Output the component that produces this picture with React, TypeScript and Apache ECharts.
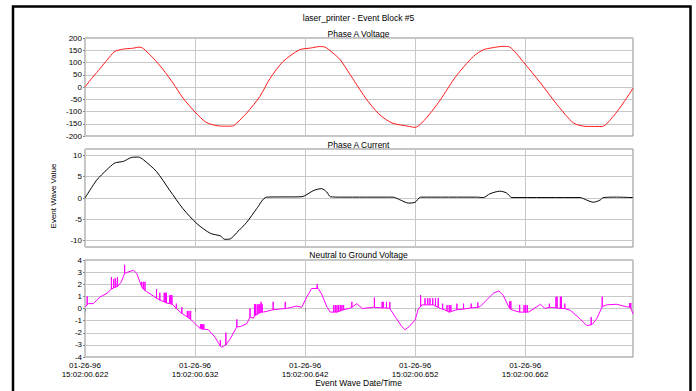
import React, { useEffect, useRef } from "react";
import * as echarts from "echarts";

const chartTitle = "laser_printer - Event Block #5";
const panelTitles = ["Phase A Voltage", "Phase A Current", "Neutral to Ground Voltage"];
const yAxisTitle = "Event Wave Value";
const xAxisTitle = "Event Wave Date/Time";

// time offsets (ms) from 15:02:00.622
const timeTickOffsets = [0, 10, 20, 30, 40];
const timeTickLabels = [
  "01-26-96\n15:02:00.622",
  "01-26-96\n15:02:00.632",
  "01-26-96\n15:02:00.642",
  "01-26-96\n15:02:00.652",
  "01-26-96\n15:02:00.662",
];

const voltagePoints: [number, number][] = [
  [0, 0], [0.7, 40], [1.4, 77], [2.0, 110], [2.7, 145], [3.5, 155], [4.3, 158], [5.0, 163], [5.3, 157],
  [6.2, 118], [7.1, 71], [8.0, 16], [8.9, -45], [10.0, -102], [11.0, -144], [12.0, -158], [13.0, -160],
  [13.5, -158], [13.8, -147], [14.7, -106], [15.9, -38], [16.8, 34], [18.0, 104], [19.5, 152], [20.5, 159],
  [21.3, 165], [21.8, 163], [22.5, 140], [23.2, 111], [24.0, 57], [25.5, -45], [26.7, -110], [27.9, -147],
  [29.5, -161], [30.0, -165], [30.6, -147], [31.5, -100], [32.3, -52], [33.7, 43], [35.3, 125], [36.2, 152],
  [37.0, 160], [38.0, 166], [38.6, 163], [39.8, 104], [41.4, 16], [42.9, -72], [44.4, -147], [45.6, -161],
  [47.0, -161], [48.0, -120], [49.0, -60], [49.8, -5],
];

const currentPoints: [number, number][] = [
  [0, 0], [1.06, 4.2], [1.97, 6.6], [2.7, 8.2], [3.5, 8.6], [4.2, 9.5], [4.85, 9.6], [5.3, 9.0], [6.5, 6.2],
  [7.7, 1.8], [8.9, -2.5], [10.2, -6.1], [11.4, -8.3], [12.3, -8.9], [12.7, -9.7], [13.2, -9.6], [13.8, -8.1],
  [14.7, -5.7], [15.6, -2.5], [16.5, 0.2], [19.7, 0.3], [20.8, 1.8], [21.5, 2.2], [21.97, 1.4], [22.3, 0.3],
  [23.2, 0.2], [28.0, 0.2], [28.6, -0.4], [29.4, -1.2], [30.0, -1.0], [30.5, 0.2], [35.6, 0.2], [36.2, 0.1],
  [36.8, 1.0], [37.7, 1.6], [38.3, 1.2], [38.8, 0.1], [45.0, 0.1], [45.6, -0.5], [46.2, -1.0], [46.8, -0.5],
  [47.1, 0.1], [48.3, 0.2], [49.8, 0.1],
];

const neutralBasePoints: [number, number][] = [
  [0, 0.15], [0.3, 0.4], [0.75, 0.4], [1.36, 0.95], [2.0, 1.25], [2.4, 1.6], [2.9, 1.8], [3.3, 2.2], [3.9, 3.0],
  [4.4, 3.15], [4.7, 2.9], [5.15, 1.8], [5.6, 1.4], [6.5, 0.85], [7.4, 0.45], [8.0, 0.3], [8.8, -0.4],
  [9.85, -1.1], [10.45, -1.65], [11.2, -1.75], [11.8, -2.35], [12.4, -3.2], [12.7, -3.05], [13.2, -2.5],
  [13.8, -1.5], [14.1, -1.5], [14.7, -1.25], [15.3, -0.8], [16.2, -0.3], [17.1, -0.1], [18.3, 0], [19.2, 0.2],
  [19.7, 0.1], [20.15, 0.95], [20.6, 1.65], [21.2, 1.65], [21.5, 1.2], [22.0, 0.1], [22.3, -0.3], [22.9, -0.3],
  [24.0, 0], [24.7, 0.4], [25.2, 0], [26.2, 0.1], [27.7, 0], [28.2, -0.7], [28.8, -1.5], [29.1, -1.75],
  [29.5, -1.45], [30.0, -0.95], [30.3, 0], [30.6, 0.3], [31.7, 0.3], [32.3, 0], [33.2, -0.3], [34.7, 0],
  [35.9, 0.15], [36.5, 0.7], [37.1, 1.25], [37.6, 1.45], [38.0, 1.1], [38.5, 0.15], [38.9, -0.15], [39.5, -0.3],
  [40.3, -0.3], [41.4, 0.35], [41.8, 0], [43.2, 0], [44.1, -0.15], [44.8, -0.7], [45.6, -1.4], [46.1, -1.3],
  [46.5, -0.85], [47.0, 0.15], [47.4, 0.3], [48.3, 0.35], [49.2, 0.15], [49.8, -0.45],
];

// [time, base value, spike top]
const neutralSpikes: [number, number, number][] = [
  [0.2, 0.3, 1.0], [2.4, 1.6, 2.6], [2.6, 1.7, 2.4], [2.75, 1.75, 2.5], [2.95, 1.8, 2.6], [3.6, 2.9, 3.6],
  [5.15, 1.8, 2.2], [5.3, 1.6, 2.2], [5.45, 1.5, 2.2], [6.5, 0.85, 1.6], [6.8, 0.7, 1.3], [7.2, 0.55, 1.3],
  [7.3, 0.5, 1.3], [7.4, 0.45, 1.3], [7.7, 0.4, 1.1], [7.8, 0.38, 1.1], [7.9, 0.35, 1.1], [8.3, 0.0, 0.4],
  [8.8, -0.4, 0.1], [9.3, -0.7, -0.2], [9.45, -0.8, -0.2], [9.6, -0.9, -0.2], [10.5, -1.65, -1.3],
  [10.6, -1.7, -1.3], [10.7, -1.7, -1.3], [10.8, -1.7, -1.3], [12.3, -3.1, -2.6], [12.8, -3.0, -2.0],
  [13.8, -1.5, -0.9], [15.0, -0.7, 0], [15.4, -0.6, 0.35], [15.5, -0.55, 0.35], [15.65, -0.5, 0.35],
  [15.8, -0.4, 0.35], [15.9, -0.35, 0.35], [16.0, -0.3, 0.55], [16.1, -0.3, 0.35], [17.1, -0.1, 0.55],
  [18.2, 0, 0.55], [21.1, 1.65, 2.0], [22.6, -0.3, 0.28], [22.75, -0.3, 0.28], [22.9, -0.3, 0.28],
  [23.05, -0.25, 0.28], [23.2, -0.2, 0.28], [23.35, -0.15, 0.28], [23.5, -0.1, 0.28], [24.25, 0.1, 0.55],
  [26.3, 0.1, 0.9], [27.0, 0.05, 0.55], [27.1, 0.05, 0.55], [27.4, 0.05, 0.55], [27.7, 0, 0.55],
  [30.5, 0.15, 1.1], [30.9, 0.3, 0.85], [31.15, 0.3, 0.85], [31.35, 0.3, 0.85], [31.6, 0.3, 0.85],
  [31.85, 0.2, 0.85], [32.1, 0.1, 0.85], [32.5, -0.05, 0.4], [32.9, -0.2, 0.28], [33.1, -0.3, 0.28],
  [33.25, -0.25, 0.28], [33.8, -0.1, 0.4], [34.4, -0.05, 0.4], [35.1, 0.05, 0.4], [35.7, 0.1, 0.5],
  [38.6, 0.0, 0.6], [38.7, -0.05, 0.6], [39.5, -0.3, 0.3], [39.9, -0.3, 0.28], [40.05, -0.3, 0.28],
  [40.2, -0.3, 0.28], [42.2, 0.1, 0.4], [42.8, 0.05, 0.97], [42.9, 0.05, 0.97], [43.2, 0, 0.97],
  [43.3, 0, 0.97], [43.6, 0, 0.4], [46.0, -1.35, -0.7], [47.0, 0.15, 0.97], [49.5, 0.1, 0.45], [49.6, 0.05, 0.45],
];

const FONT = "Liberation Sans, Arial, sans-serif";

function buildNeutral(): [number, number][] {
  const groups: { t: number; pts: [number, number][] }[] = [];
  neutralBasePoints.forEach((p) => groups.push({ t: p[0], pts: [p] }));
  neutralSpikes.forEach(([t, b, top]) =>
    groups.push({ t, pts: [[t, b], [t, top], [t, b]] })
  );
  groups.sort((a, b) => a.t - b.t);
  const out: [number, number][] = [];
  groups.forEach((g) => g.pts.forEach((p) => out.push(p)));
  return out;
}

export default function App() {
  const ref = useRef<HTMLDivElement>(null);
  useEffect(() => {
    if (!ref.current) return;
    const chart = echarts.init(ref.current, null, { renderer: "svg" });
    const gridTops = [38, 149, 260];
    const gridHeights = [98, 98, 97];
    const labelStyle = { fontSize: 8, color: "#000", fontFamily: FONT };
    const titleStyle = { fontSize: 8.5, fill: "#000", fontFamily: FONT };
    const option: any = {
      animation: false,
      backgroundColor: "#fff",
      grid: gridTops.map((top, i) => ({
        left: 85,
        width: 548,
        top,
        height: gridHeights[i],
        show: true,
        borderColor: "#8a8a8a",
        borderWidth: 1,
        backgroundColor: "transparent",
      })),
      xAxis: [0, 1, 2].map((i) => ({
        type: "value",
        gridIndex: i,
        min: 0,
        max: 49.8,
        interval: 10,
        axisLine: { show: false },
        axisTick: { show: i === 2, length: 3, lineStyle: { color: "#8a8a8a" } },
        axisLabel: {
          show: i === 2,
          showMaxLabel: false,
          margin: 4,
          lineHeight: 9,
          ...labelStyle,
          formatter: (v: number) => {
            const k = timeTickOffsets.indexOf(Math.round(v));
            return k >= 0 ? timeTickLabels[k] : "";
          },
        },
        splitLine: { show: true, lineStyle: { color: "#c8c8c8", width: 1 } },
      })),
      yAxis: [
        {
          type: "value",
          gridIndex: 0,
          min: -200,
          max: 200,
          interval: 50,
        },
        {
          type: "value",
          gridIndex: 1,
          min: -11.5,
          max: 11.5,
          axisLabel: { customValues: [-10, -5, 0, 5, 10] },
          axisTick: { customValues: [-10, -5, 0, 5, 10] },
        },
        {
          type: "value",
          gridIndex: 2,
          min: -4,
          max: 4,
          interval: 1,
        },
      ].map((a: any) => ({
        ...a,
        axisLine: { show: false },
        axisTick: { show: true, length: 2, lineStyle: { color: "#8a8a8a" }, ...(a.axisTick || {}) },
        axisLabel: { margin: 3, ...labelStyle, ...(a.axisLabel || {}) },
        splitLine: { show: true, lineStyle: { color: "#c8c8c8", width: 1 } },
      })),
      series: [
        {
          type: "line",
          xAxisIndex: 0,
          yAxisIndex: 0,
          data: voltagePoints,
          showSymbol: false,
          smooth: 0.25,
          lineStyle: { color: "#ff1a1a", width: 1 },
        },
        {
          type: "line",
          xAxisIndex: 1,
          yAxisIndex: 1,
          data: currentPoints,
          showSymbol: false,
          smooth: 0.25,
          lineStyle: { color: "#000", width: 1 },
        },
        {
          type: "line",
          xAxisIndex: 2,
          yAxisIndex: 2,
          data: buildNeutral(),
          showSymbol: false,
          lineStyle: { color: "#ff00ff", width: 1 },
        },
      ],
      graphic: [
        {
          type: "rect",
          shape: { x: 13, y: 6.5, width: 677.5, height: 420 },
          style: { fill: "none", stroke: "#000", lineWidth: 2.5 },
          silent: true,
        },
        {
          type: "text",
          x: 358.5,
          y: 18,
          style: { text: chartTitle, textAlign: "center", textVerticalAlign: "middle", ...titleStyle },
        },
        ...panelTitles.map((t, i) => ({
          type: "text",
          x: 358.5,
          y: [33.5, 144.5, 255][i],
          style: { text: t, textAlign: "center", textVerticalAlign: "middle", ...titleStyle },
        })),
        {
          type: "text",
          x: 53,
          y: 196,
          rotation: Math.PI / 2,
          style: { text: yAxisTitle, textAlign: "center", textVerticalAlign: "middle", ...titleStyle, fontSize: 8 },
        },
        {
          type: "text",
          x: 358.5,
          y: 383,
          style: { text: xAxisTitle, textAlign: "center", textVerticalAlign: "middle", ...titleStyle },
        },
      ],
    };
    chart.setOption(option);
    return () => chart.dispose();
  }, []);
  return (
    <div
      ref={ref}
      style={{ position: "fixed", left: 0, top: 0, width: 696, height: 391, background: "#fff" }}
    />
  );
}
